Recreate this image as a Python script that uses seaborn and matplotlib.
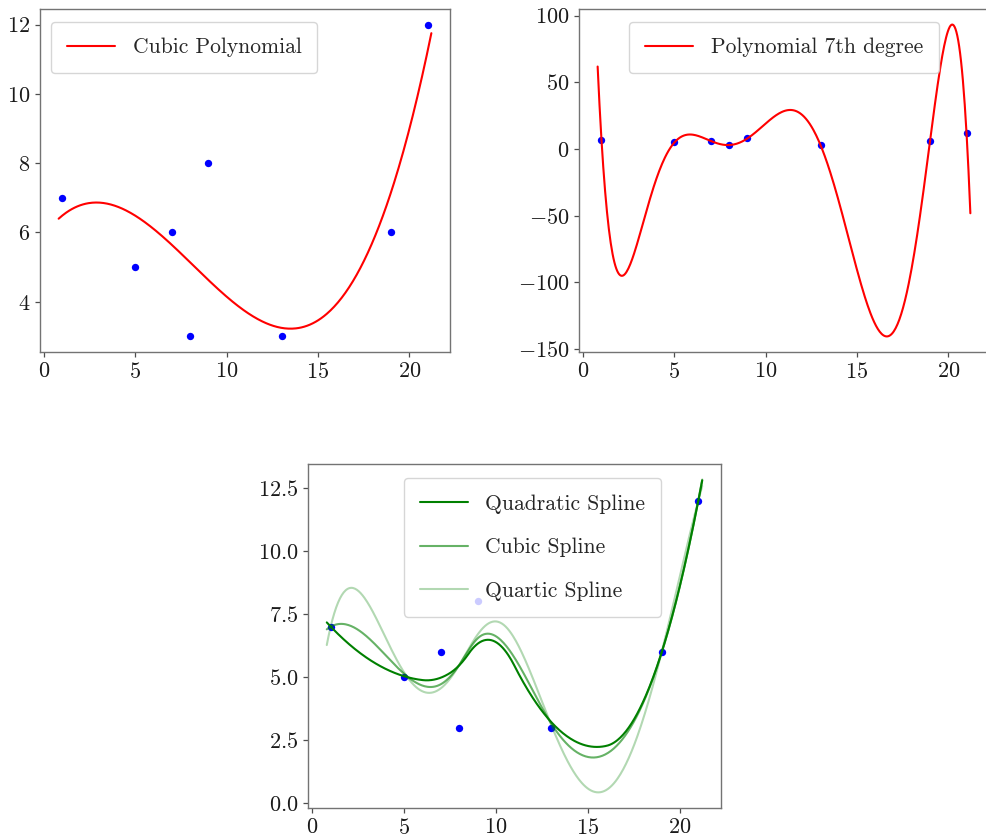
import numpy as np
import pandas as pd
import matplotlib
matplotlib.use("Agg")
import matplotlib.pyplot as plt
import seaborn as sns

# ---------------- data ----------------
x_data = [1, 5, 7, 8, 9, 13, 19, 21]
y_data = [7, 5, 6, 3, 8, 3, 6, 12]
curve_range = [0.79, 21.21]
poly_degrees = [3, 7]
poly_labels = ["Cubic Polynomial", "Polynomial 7th degree"]
spline_degrees = [2, 3, 4]
spline_labels = ["Quadratic Spline", "Cubic Spline", "Quartic Spline"]
spline_alphas = [1.0, 0.6, 0.3]
spline_smoothing = 10.0
x_ticks = [0, 5, 10, 15, 20]
spline_y_ticks = [0.0, 2.5, 5.0, 7.5, 10.0, 12.5]


# ---------------- smoothing spline helpers (FITPACK curfit style) ----------------
def _bspl(t, k, xv):
    t = np.asarray(t, float)
    nb = len(t) - k - 1
    xv = np.atleast_1d(np.asarray(xv, float))
    B = np.zeros((len(xv), nb))
    for r, xx in enumerate(xv):
        l = k
        while l < nb - 1 and xx >= t[l + 1]:
            l += 1
        h = [0.0] * (k + 1)
        h[0] = 1.0
        for j in range(1, k + 1):
            hh = h[:j]
            h[0] = 0.0
            for i in range(1, j + 1):
                li = l + i
                lj = li - j
                if t[li] == t[lj]:
                    h[i] = 0.0
                    continue
                f = hh[i - 1] / (t[li] - t[lj])
                h[i - 1] += f * (t[li] - xx)
                h[i] = f * (xx - t[lj])
        B[r, l - k:l + 1] = h
    return B


def _lsq(t, k, xd, yd):
    A = _bspl(t, k, xd)
    c = np.linalg.lstsq(A, yd, rcond=None)[0]
    return c, yd - A @ c


def _smoothing_spline_np(xd, yd, k, s):
    xd = np.asarray(xd, float)
    yd = np.asarray(yd, float)
    m = len(xd)
    xb, xe = xd[0], xd[-1]
    k1 = k + 1
    nmin = 2 * k1
    nmax = m + k1
    acc = 0.001 * s
    interior = []
    nrdata = [m - 2]
    nplus = 0
    fpold = 0.0
    ier = 0

    def knots(intr):
        return np.r_[[xb] * k1, intr, [xe] * k1]

    for _ in range(3 * m):
        n = nmin + len(interior)
        if n == nmin:
            ier = -2
        t = knots(interior)
        c, res = _lsq(t, k, xd, yd)
        fp = float(res @ res)
        fpms = fp - s
        if abs(fpms) < acc:
            return t, c
        if fpms < 0:
            break
        if n == nmax:
            return t, c
        if ier == 0:
            npl1 = nplus * 2
            rn = nplus
            if fpold - fp > acc:
                npl1 = int(rn * fpms / (fpold - fp))
            nplus = min(nplus * 2, max(npl1, nplus // 2, 1))
        else:
            nplus = 1
            ier = 0
        fpold = fp
        nrint = n - nmin + 1
        fpint = [0.0] * nrint
        fpart = 0.0
        i = 0
        lz = k + 1
        for it in range(m):
            new = False
            if lz < n - k1 and xd[it] >= t[lz]:
                new = True
                lz += 1
            term = res[it] ** 2
            fpart += term
            if new:
                store = term * 0.5
                fpint[i] = fpart - store
                i += 1
                fpart = store
        fpint[nrint - 1] = fpart
        for _p in range(nplus):
            fpmax = 0.0
            jbegin = 0
            number = None
            for j in range(len(nrdata)):
                jp = nrdata[j]
                if fpmax < fpint[j] and jp != 0:
                    fpmax = fpint[j]
                    number = j
                    maxpt = jp
                    maxbeg = jbegin
                jbegin += jp + 1
            if number is None:
                break
            ihalf = maxpt // 2 + 1
            nrx = maxbeg + ihalf
            a1 = ihalf - 1
            a2 = maxpt - ihalf
            nrdata[number] = a1
            nrdata.insert(number + 1, a2)
            fpint[number] = fpmax * a1 / maxpt
            fpint.insert(number + 1, fpmax * a2 / maxpt)
            interior = sorted(interior + [xd[nrx]])
            n += 1
            if n == nmax:
                mk1 = m - k1
                k3 = k // 2
                if k % 2 == 1:
                    interior = [xd[j] for j in range(k3 + 1, k3 + 1 + mk1)]
                else:
                    interior = [(xd[j] + xd[j - 1]) / 2 for j in range(k3 + 1, k3 + 1 + mk1)]
                break

    t = knots(interior)
    c, res = _lsq(t, k, xd, yd)
    if ier == -2:
        return t, c
    A = _bspl(t, k, xd)
    nb = len(t) - k - 1
    rows = []
    for l in range(k + 1, len(t) - k - 1):
        row = np.zeros(nb)
        for j in range(l - k - 1, l + 1):
            prod = 1.0
            for ii in range(j, j + k + 2):
                if ii != l:
                    prod *= (t[l] - t[ii])
            row[j] = (t[j + k + 1] - t[j]) / prod
        rows.append(row)
    J = np.array(rows)
    J = J / np.abs(J).max()

    def solve(loglam):
        lam = 10.0 ** loglam
        M = np.vstack([A, np.sqrt(lam) * J])
        rhs = np.r_[yd, np.zeros(J.shape[0])]
        cc = np.linalg.lstsq(M, rhs, rcond=None)[0]
        rr = yd - A @ cc
        return cc, float(rr @ rr)

    lo, hi = -16.0, 16.0
    for _ in range(200):
        mid = 0.5 * (lo + hi)
        _, f = solve(mid)
        if f > s:
            hi = mid
        else:
            lo = mid
    c, _ = solve(0.5 * (lo + hi))
    return t, c


def spline_curve(xd, yd, k, s, xv):
    try:
        from scipy.interpolate import UnivariateSpline
        return UnivariateSpline(xd, yd, k=k, s=s)(xv)
    except Exception:
        t, c = _smoothing_spline_np(xd, yd, k, s)
        return _bspl(t, k, xv) @ c


# ---------------- style ----------------
sns.set_style("ticks")
plt.rcParams.update({
    "font.family": "cmr10",
    "mathtext.fontset": "cm",
    "axes.formatter.use_mathtext": True,
    "font.size": 16,
    "axes.edgecolor": "0.45",
    "axes.linewidth": 1.0,
    "xtick.major.size": 3.5,
    "ytick.major.size": 3.5,
    "xtick.major.width": 0.9,
    "ytick.major.width": 0.9,
    "xtick.color": "0.3",
    "ytick.color": "0.3",
    "xtick.labelcolor": "0.1",
    "ytick.labelcolor": "0.1",
    "xtick.labelsize": 16,
    "ytick.labelsize": 16,
    "legend.fontsize": 15.5,
})

fig = plt.figure(figsize=(9.86, 8.40), dpi=100)
W, H = 986.0, 840.0


def add_ax(left, top, right, bottom):
    return fig.add_axes([left / W, 1 - bottom / H, (right - left) / W, (bottom - top) / H])


ax1 = add_ax(40, 9, 450, 352)
ax2 = add_ax(579, 9, 989, 352)
ax3 = add_ax(308, 464, 721, 808)

xs = np.linspace(curve_range[0], curve_range[1], 400)
df_pts = pd.DataFrame({"x": x_data, "y": y_data})
leg_kw = dict(handlelength=2.25, borderpad=0.74, labelspacing=1.12)

for ax, deg, lab in zip([ax1, ax2], poly_degrees, poly_labels):
    coef = np.polyfit(np.asarray(x_data, float), np.asarray(y_data, float), deg)
    sns.scatterplot(data=df_pts, x="x", y="y", color="b", s=28, linewidth=0, ax=ax)
    sns.lineplot(x=xs, y=np.polyval(coef, xs), color="r", label=lab, ax=ax,
                 estimator=None, sort=False, linewidth=1.5)

ax1.legend(loc="upper left", bbox_to_anchor=(0.027, 0.962), borderaxespad=0, **leg_kw)
ax2.legend(loc="upper center", bbox_to_anchor=(0.5, 0.962), borderaxespad=0, **leg_kw)

sns.scatterplot(data=df_pts, x="x", y="y", color="b", s=28, linewidth=0, ax=ax3)
for deg, lab, al in zip(spline_degrees, spline_labels, spline_alphas):
    ys = spline_curve(x_data, y_data, deg, spline_smoothing, xs)
    sns.lineplot(x=xs, y=ys, color="g", alpha=al, label=lab, ax=ax3,
                 estimator=None, sort=False, linewidth=1.5)
ax3.legend(loc="upper left", bbox_to_anchor=(0.232, 0.959), borderaxespad=0, **leg_kw)
ax3.set_yticks(spline_y_ticks)

for ax in (ax1, ax2, ax3):
    ax.set_xlabel("")
    ax.set_ylabel("")
    ax.set_xticks(x_ticks)

fig.savefig("out.png", dpi=100)
